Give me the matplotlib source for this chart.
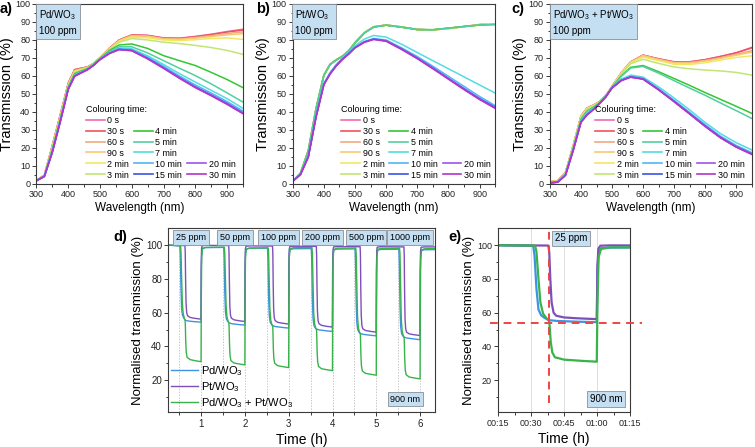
import matplotlib
matplotlib.use('Agg')
import matplotlib.pyplot as plt
from matplotlib.lines import Line2D
from matplotlib.ticker import MultipleLocator, FixedLocator, FixedFormatter

plt.rcParams['font.family'] = ['Liberation Sans', 'DejaVu Sans']
plt.rcParams['mathtext.default'] = 'regular'

# ---------------- spectra, panels a-c ----------------
wavelength = [300, 325, 350, 375, 400, 420, 440, 460, 480, 500, 530, 560,
              600, 650, 700, 750, 800, 850, 900, 950]

colouring_times = ['0 s', '30 s', '60 s', '90 s', '2 min', '3 min', '4 min',
                   '5 min', '7 min', '10 min', '15 min', '20 min', '30 min']
time_colors = ['#f06ab4', '#f2505c', '#f0aa80', '#f6c870', '#f2e860', '#c2e674',
               '#34c634', '#52cfa0', '#52dce2', '#52b6f6', '#3a54e6', '#a052f0', '#b434c8']

pd_spectra = [
    [2.0, 5.0, 21.5, 38.5, 56.0, 63.5, 64.3, 65.0, 67.0, 70.2, 75.5, 80.0, 82.8, 82.6, 81.2, 81.0, 82.0, 83.2, 84.7, 86.0],
    [2.0, 5.0, 21.5, 38.5, 56.0, 63.5, 64.3, 65.0, 67.0, 70.2, 75.5, 80.0, 82.8, 82.5, 81.0, 80.9, 81.8, 83.0, 84.4, 85.5],
    [2.0, 5.0, 21.0, 38.0, 55.5, 63.0, 64.0, 64.8, 67.0, 70.1, 75.3, 79.8, 82.5, 82.2, 80.8, 80.6, 81.4, 82.4, 83.6, 84.5],
    [2.0, 5.0, 20.8, 37.8, 55.3, 62.8, 63.8, 64.7, 66.9, 70.0, 75.2, 79.6, 82.3, 82.0, 80.5, 80.3, 81.0, 81.9, 82.8, 83.5],
    [2.0, 4.9, 20.5, 37.3, 55.0, 62.5, 63.5, 64.6, 66.9, 70.0, 75.0, 79.2, 81.6, 81.2, 80.0, 79.7, 80.2, 80.8, 81.2, 80.3],
    [2.0, 4.8, 20.0, 36.8, 54.6, 62.0, 63.2, 64.4, 66.8, 70.0, 74.7, 78.7, 80.8, 80.0, 78.8, 78.0, 77.0, 75.8, 74.2, 72.0],
    [1.9, 4.6, 19.3, 36.2, 54.0, 61.3, 62.7, 64.1, 66.6, 69.8, 74.2, 77.2, 77.8, 75.3, 71.3, 68.5, 65.8, 62.0, 58.0, 53.5],
    [1.9, 4.5, 18.8, 35.6, 53.5, 60.8, 62.4, 63.9, 66.4, 69.6, 73.6, 76.2, 76.2, 72.8, 68.5, 64.3, 60.2, 55.6, 50.6, 45.5],
    [1.8, 4.4, 18.3, 35.2, 53.1, 60.4, 62.1, 63.7, 66.2, 69.4, 73.1, 75.4, 75.1, 71.2, 66.4, 61.3, 56.6, 52.0, 47.4, 42.0],
    [1.8, 4.3, 18.0, 35.0, 52.9, 60.2, 61.9, 63.6, 66.1, 69.3, 72.9, 75.1, 74.6, 70.4, 65.4, 60.0, 55.0, 50.5, 45.8, 40.5],
    [1.8, 4.2, 17.8, 34.8, 52.7, 60.0, 61.8, 63.5, 66.0, 69.2, 72.7, 74.8, 74.2, 69.8, 64.6, 59.1, 54.0, 49.5, 44.8, 39.5],
    [1.8, 4.2, 17.7, 34.7, 52.6, 59.9, 61.7, 63.4, 66.0, 69.1, 72.6, 74.7, 74.1, 69.6, 64.4, 58.9, 53.7, 49.2, 44.5, 39.2],
    [1.8, 4.2, 17.6, 34.6, 52.5, 59.8, 61.6, 63.4, 65.9, 69.1, 72.5, 74.6, 74.0, 69.5, 64.2, 58.7, 53.5, 49.0, 44.2, 39.0],
]

pt_spectra = [
    [1.5, 6.0, 18.5, 42.0, 60.5, 66.5, 69.0, 71.0, 74.0, 78.5, 84.0, 87.3, 88.3, 87.2, 85.8, 85.6, 86.5, 87.5, 88.6, 89.0],
    [1.5, 6.0, 18.5, 42.0, 60.5, 66.5, 69.0, 71.0, 74.0, 78.5, 84.0, 87.3, 88.3, 87.2, 85.8, 85.6, 86.4, 87.4, 88.5, 89.0],
    [1.5, 6.0, 18.5, 42.0, 60.5, 66.5, 69.0, 71.0, 74.0, 78.5, 84.0, 87.3, 88.3, 87.2, 85.8, 85.6, 86.4, 87.4, 88.5, 89.0],
    [1.5, 6.0, 18.5, 42.0, 60.5, 66.5, 69.0, 71.0, 74.0, 78.5, 84.0, 87.3, 88.3, 87.2, 85.8, 85.6, 86.4, 87.4, 88.5, 89.0],
    [1.5, 6.0, 18.5, 42.0, 60.5, 66.5, 69.0, 71.0, 74.0, 78.5, 84.0, 87.3, 88.3, 87.2, 85.8, 85.6, 86.4, 87.4, 88.5, 89.0],
    [1.5, 6.0, 18.5, 42.0, 60.5, 66.5, 69.0, 71.0, 74.0, 78.5, 84.0, 87.3, 88.3, 87.2, 85.8, 85.6, 86.4, 87.4, 88.5, 89.0],
    [1.5, 6.0, 18.3, 41.8, 60.3, 66.4, 68.9, 71.0, 74.0, 78.4, 83.9, 87.2, 88.2, 87.1, 85.8, 85.7, 86.6, 87.5, 88.3, 88.6],
    [1.5, 6.0, 18.3, 41.8, 60.3, 66.4, 68.9, 71.0, 74.0, 78.4, 83.9, 87.2, 88.2, 87.1, 85.8, 85.7, 86.6, 87.5, 88.3, 88.6],
    [1.5, 5.5, 15.5, 38.0, 56.0, 62.0, 66.5, 70.0, 73.0, 76.8, 80.5, 82.5, 81.6, 77.6, 73.0, 68.5, 64.0, 59.5, 55.0, 50.5],
    [1.5, 5.4, 15.2, 37.6, 55.5, 61.5, 66.0, 69.6, 72.6, 76.0, 79.2, 80.8, 80.0, 75.6, 70.8, 65.4, 59.8, 54.2, 48.6, 43.5],
    [1.5, 5.3, 15.0, 37.4, 55.3, 61.3, 65.8, 69.4, 72.4, 75.8, 78.9, 80.5, 79.5, 75.0, 70.0, 64.5, 58.7, 53.0, 47.5, 42.6],
    [1.5, 5.3, 15.0, 37.3, 55.2, 61.2, 65.7, 69.3, 72.3, 75.7, 78.8, 80.4, 79.4, 74.8, 69.8, 64.2, 58.4, 52.6, 47.1, 42.2],
    [1.5, 5.3, 14.9, 37.2, 55.1, 61.1, 65.6, 69.2, 72.2, 75.6, 78.7, 80.3, 79.3, 74.7, 69.6, 64.0, 58.2, 52.4, 46.9, 42.0],
]

pdpt_spectra = [
    [1.2, 1.8, 6.5, 21.5, 37.8, 42.3, 43.8, 45.8, 49.2, 54.2, 61.8, 67.8, 71.6, 69.6, 67.9, 67.9, 69.1, 70.9, 72.9, 75.5],
    [1.2, 1.8, 6.5, 21.5, 37.8, 42.3, 43.8, 45.8, 49.2, 54.2, 61.8, 67.8, 71.6, 69.5, 67.8, 67.8, 69.0, 70.8, 72.8, 75.8],
    [1.2, 1.8, 6.4, 21.4, 37.7, 42.2, 43.7, 45.7, 49.1, 54.1, 61.7, 67.7, 71.5, 69.3, 67.5, 67.5, 68.6, 70.2, 72.0, 74.0],
    [1.2, 1.8, 6.3, 21.3, 37.6, 42.1, 43.6, 45.6, 49.0, 54.0, 61.6, 67.6, 71.3, 69.0, 67.3, 67.2, 68.3, 69.8, 71.5, 73.2],
    [1.1, 1.7, 6.2, 21.0, 37.3, 41.9, 43.5, 45.5, 49.0, 54.0, 61.4, 67.3, 70.5, 68.5, 66.5, 66.4, 67.4, 68.8, 70.3, 71.2],
    [1.0, 1.6, 6.0, 20.6, 36.8, 41.5, 43.2, 45.3, 48.9, 53.9, 61.0, 66.8, 69.3, 67.0, 65.0, 64.0, 63.3, 62.8, 62.0, 60.5],
    [0.9, 1.4, 5.6, 20.0, 36.0, 40.6, 42.6, 45.1, 48.8, 53.8, 60.0, 64.8, 65.8, 62.4, 58.6, 54.8, 50.8, 47.0, 43.2, 39.3],
    [0.9, 1.4, 5.5, 19.8, 35.8, 40.4, 42.5, 45.0, 48.7, 53.7, 59.8, 64.4, 65.3, 61.6, 57.4, 53.3, 49.3, 45.0, 40.8, 36.5],
    [0.7, 1.2, 5.2, 19.3, 35.0, 39.3, 41.8, 44.9, 48.6, 53.6, 58.3, 60.5, 59.4, 54.0, 47.8, 41.2, 34.2, 28.0, 23.0, 19.0],
    [0.6, 1.1, 5.0, 19.0, 34.7, 38.9, 41.6, 44.8, 48.5, 53.5, 57.8, 59.8, 58.8, 53.0, 46.5, 39.8, 33.0, 26.6, 21.5, 17.5],
    [0.6, 1.0, 4.9, 18.9, 34.5, 38.6, 41.5, 44.8, 48.4, 53.4, 57.6, 59.5, 58.4, 52.5, 46.0, 39.2, 32.3, 25.9, 20.8, 16.8],
    [0.6, 1.0, 4.9, 18.8, 34.4, 38.5, 41.4, 44.7, 48.4, 53.4, 57.5, 59.4, 58.3, 52.4, 45.8, 39.0, 32.1, 25.7, 20.6, 16.6],
    [0.6, 1.0, 4.8, 18.7, 34.3, 38.4, 41.3, 44.7, 48.3, 53.3, 57.4, 59.3, 58.2, 52.3, 45.7, 38.9, 32.0, 25.6, 20.5, 16.5],
]

# ---------------- cycling at 900 nm, panels d-e ----------------
pd_time = [0.25, 0.515, 0.525, 0.54, 0.555, 0.575, 0.6, 0.635, 0.7, 0.85, 0.998, 1.003, 1.012, 1.03, 1.1,
           1.515, 1.525, 1.54, 1.555, 1.575, 1.6, 1.635, 1.7, 1.85, 1.998, 2.003, 2.012, 2.03, 2.1,
           2.515, 2.525, 2.54, 2.555, 2.575, 2.6, 2.635, 2.7, 2.85, 2.998, 3.003, 3.012, 3.03, 3.1,
           3.515, 3.525, 3.54, 3.555, 3.575, 3.6, 3.635, 3.7, 3.85, 3.998, 4.003, 4.012, 4.03, 4.1,
           4.515, 4.525, 4.54, 4.555, 4.575, 4.6, 4.635, 4.7, 4.85, 4.998, 5.003, 5.012, 5.03, 5.1,
           5.515, 5.525, 5.54, 5.555, 5.575, 5.6, 5.635, 5.7, 5.85, 5.998, 6.003, 6.012, 6.03, 6.1, 6.34]
pd_norm = [100, 99.6, 94, 74, 62, 58.5, 57, 55.6, 55.1, 54.7, 54.4, 85, 96, 98.2, 98.6,
           98.7, 93, 72, 60.5, 56.5, 55.2, 54, 53.5, 53, 52.7, 84, 95.5, 97.7, 98.2,
           98.3, 92, 70, 58.5, 54.5, 53.3, 52.3, 51.8, 51.3, 50.9, 84, 95, 97.4, 97.9,
           98.0, 91, 68, 56.5, 52.5, 51.2, 50.3, 49.8, 49.3, 48.9, 83, 95, 97.2, 97.7,
           97.8, 90, 66, 54, 50, 48.6, 47.7, 47.2, 46.7, 46.3, 83, 94.5, 97, 97.5,
           97.6, 89, 64, 52, 47.8, 46.4, 45.5, 45, 44.5, 44.0, 82, 94, 96.8, 97.3, 97.4]

pt_time = [0.25, 0.63, 0.637, 0.645, 0.655, 0.67, 0.69, 0.75, 0.85, 0.998, 1.003, 1.01, 1.025, 1.1,
           1.63, 1.637, 1.645, 1.655, 1.67, 1.69, 1.75, 1.85, 1.998, 2.003, 2.01, 2.025, 2.1,
           2.63, 2.637, 2.645, 2.655, 2.67, 2.69, 2.75, 2.85, 2.998, 3.003, 3.01, 3.025, 3.1,
           3.63, 3.637, 3.645, 3.655, 3.67, 3.69, 3.75, 3.85, 3.998, 4.003, 4.01, 4.025, 4.1,
           4.63, 4.637, 4.645, 4.655, 4.67, 4.69, 4.75, 4.85, 4.998, 5.003, 5.01, 5.025, 5.1,
           5.63, 5.637, 5.645, 5.655, 5.67, 5.69, 5.75, 5.85, 5.998, 6.003, 6.01, 6.025, 6.1, 6.34]
pt_norm = [100, 99.8, 96, 80, 66, 60, 58.2, 57.2, 56.7, 56.2, 88, 98, 99.7, 99.9,
           99.8, 95, 78, 64, 58.5, 56.8, 55.8, 55.3, 54.8, 87, 97.8, 99.4, 99.6,
           99.5, 95, 77, 62.5, 57, 55.3, 54.3, 53.8, 53.3, 87, 97.5, 99.2, 99.4,
           99.3, 94, 76, 61, 55.3, 53.5, 52.5, 52, 51.5, 86, 97.2, 99, 99.2,
           99.1, 94, 74, 58.5, 52.5, 50.5, 49.5, 49, 48.5, 86, 97, 98.9, 99.1,
           99.0, 94, 73, 56.5, 50.5, 48.5, 47.5, 47, 46.5, 85, 96.8, 98.8, 99, 99]

pdpt_time = [0.25, 0.53, 0.54, 0.555, 0.57, 0.59, 0.615, 0.635, 0.64, 0.648, 0.66, 0.68, 0.75, 0.9, 0.998,
             1.003, 1.012, 1.03, 1.1,
             1.53, 1.54, 1.555, 1.57, 1.59, 1.615, 1.635, 1.64, 1.648, 1.66, 1.68, 1.75, 1.9, 1.998,
             2.003, 2.012, 2.03, 2.1,
             2.53, 2.54, 2.555, 2.57, 2.59, 2.615, 2.635, 2.64, 2.648, 2.66, 2.68, 2.75, 2.9, 2.998,
             3.003, 3.012, 3.03, 3.1,
             3.53, 3.54, 3.555, 3.57, 3.59, 3.615, 3.635, 3.64, 3.648, 3.66, 3.68, 3.75, 3.9, 3.998,
             4.003, 4.012, 4.03, 4.1,
             4.53, 4.54, 4.555, 4.57, 4.59, 4.615, 4.635, 4.64, 4.648, 4.66, 4.68, 4.75, 4.9, 4.998,
             5.003, 5.012, 5.03, 5.1,
             5.53, 5.54, 5.555, 5.57, 5.59, 5.615, 5.635, 5.64, 5.648, 5.66, 5.68, 5.75, 5.9, 5.998,
             6.003, 6.012, 6.03, 6.1, 6.34]
pdpt_norm = [100, 99.7, 96, 80, 66, 59.5, 56.8, 55.3, 52, 43, 36.5, 33.6, 32.2, 31.4, 31.0,
             65, 93, 97.8, 98.7,
             98.8, 95, 79, 64, 57.5, 55, 53.6, 50, 41, 34.5, 31.6, 30.2, 29.5, 29.1,
             64, 92.5, 97.5, 98.3,
             98.4, 95, 78, 62, 55.5, 53, 51.8, 48, 39, 32.8, 30, 28.6, 27.9, 27.5,
             63, 92.5, 97.8, 98.5,
             98.6, 95, 77, 60, 53.5, 51, 49.8, 46, 37, 31, 28.2, 26.8, 26.1, 25.7,
             62, 92, 97.5, 98.2,
             98.3, 95, 76, 58, 51, 48.5, 47.3, 43.5, 34.5, 28.5, 25.5, 24.1, 23.4, 23.0,
             61, 92, 97.5, 98.1,
             98.2, 95, 75, 56, 49, 46.5, 45.2, 41.5, 32.5, 26.3, 23.3, 21.9, 21.2, 20.8,
             60, 91.5, 97.2, 97.9, 98]

concentrations = ['25 ppm', '50 ppm', '100 ppm', '200 ppm', '500 ppm', '1000 ppm']
e_ticks = [0.25, 0.5, 0.75, 1.0, 1.25]
e_tick_labels = ['00:15', '00:30', '00:45', '01:00', '01:15']
pt_onset = 0.637     # dashed vertical marker, h
pd_level = 54.1      # dashed horizontal marker, %

C_PD = '#3f93e3'
C_PT = '#7e4fb8'
C_PDPT = '#37b34a'
BOX = dict(boxstyle='square,pad=0.3', fc='#c4def2', ec='#8a8f96', lw=0.6)
AX_COLOR = '#3a3a3a'


def style_axes(ax, labelsize=6.5):
    for s in ax.spines.values():
        s.set_color(AX_COLOR)
        s.set_linewidth(0.8)
    ax.tick_params(which='both', direction='out', color=AX_COLOR, labelcolor='#222222',
                   labelsize=labelsize, width=0.7, pad=1.5)
    ax.tick_params(which='major', length=3)
    ax.tick_params(which='minor', length=1.8)


def spectra_panel(ax, spectra, sample, letter, letter_x, leg_x):
    lines = []
    for vals, lab, col in zip(spectra, colouring_times, time_colors):
        ln, = ax.plot(wavelength, vals, color=col, lw=1.1, label=lab)
        lines.append(ln)
    ax.set_xlim(300, 950)
    ax.set_ylim(0, 100)
    ax.xaxis.set_major_locator(MultipleLocator(100))
    ax.xaxis.set_minor_locator(MultipleLocator(50))
    ax.yaxis.set_major_locator(MultipleLocator(10))
    ax.yaxis.set_minor_locator(MultipleLocator(5))
    style_axes(ax)
    ax.set_xlabel('Wavelength (nm)', fontsize=8.5, labelpad=2)
    ax.set_ylabel('Transmission (%)', fontsize=10.5, labelpad=1)
    ax.text(0.013, 0.975, sample + '\n100 ppm', transform=ax.transAxes, fontsize=7,
            va='top', ha='left', linespacing=1.5, bbox=BOX)

    blank = Line2D([], [], color='none')
    handles = lines[:6] + [blank] + lines[6:11] + [blank] * 4 + lines[11:]
    labels = colouring_times[:6] + [''] + colouring_times[6:11] + [''] * 4 + colouring_times[11:]
    leg = ax.legend(handles, labels, ncol=3, title='Colouring time:', loc='upper left',
                    bbox_to_anchor=(leg_x, 0.44), frameon=False, fontsize=6.4, title_fontsize=6.5,
                    handlelength=2.1, handletextpad=0.3, columnspacing=0.55, labelspacing=0.22,
                    borderpad=0, borderaxespad=0, alignment='left')
    for ln in leg.get_lines():
        ln.set_linewidth(1.2)
    ax.text(letter_x, 0.97, letter, transform=ax.transAxes, fontsize=10.5, fontweight='bold',
            ha='left', va='center')


fig = plt.figure(figsize=(7.55, 4.47), dpi=100)

ax_a = fig.add_axes([0.0483, 0.5884, 0.2736, 0.4027])
ax_b = fig.add_axes([0.3877, 0.5884, 0.2682, 0.4027])
ax_c = fig.add_axes([0.7285, 0.5884, 0.2669, 0.4027])
spectra_panel(ax_a, pd_spectra, 'Pd/WO$_3$', 'a)', -0.18, 0.24)
spectra_panel(ax_b, pt_spectra, 'Pt/WO$_3$', 'b)', -0.18, 0.24)
spectra_panel(ax_c, pdpt_spectra, 'Pd/WO$_3$ + Pt/WO$_3$', 'c)', -0.19, 0.225)

# ---- d) ----
ax_d = fig.add_axes([0.2229, 0.0776, 0.3533, 0.4116])
ax_d.plot(pd_time, pd_norm, color=C_PD, lw=1.0, label='Pd/WO$_3$')
ax_d.plot(pt_time, pt_norm, color=C_PT, lw=1.0, label='Pt/WO$_3$')
ax_d.plot(pdpt_time, pdpt_norm, color=C_PDPT, lw=1.0, label='Pd/WO$_3$ + Pt/WO$_3$')
ax_d.set_xlim(0.25, 6.34)
ax_d.set_ylim(1, 110)
ax_d.xaxis.set_major_locator(MultipleLocator(1))
ax_d.xaxis.set_minor_locator(MultipleLocator(0.5))
ax_d.yaxis.set_major_locator(FixedLocator([20, 40, 60, 80, 100]))
ax_d.yaxis.set_minor_locator(FixedLocator([10, 30, 50, 70, 90]))
ax_d.grid(which='both', axis='x', color='#b0b0b0', ls=(0, (2, 2)), lw=0.5)
style_axes(ax_d, 7)
ax_d.set_xlabel('Time (h)', fontsize=10, labelpad=3)
ax_d.set_ylabel('Normalised transmission (%)', fontsize=9.5, labelpad=1.5)
for i, conc in enumerate(concentrations):
    ax_d.text(i + 0.77, 104.6, conc, fontsize=6.5, ha='center', va='center', bbox=BOX)
ax_d.text(0.889, 0.072, '900 nm', transform=ax_d.transAxes, fontsize=6.5,
          ha='center', va='center', bbox=BOX)
ax_d.legend(loc='upper left', bbox_to_anchor=(0.012, 0.262), frameon=False, fontsize=8,
            handlelength=2.4, handletextpad=0.3, labelspacing=0.2, borderpad=0, borderaxespad=0)
ax_d.text(-0.205, 0.955, 'd)', transform=ax_d.transAxes, fontsize=10.5, fontweight='bold',
          ha='left', va='center')

# ---- e) ----
ax_e = fig.add_axes([0.6600, 0.0776, 0.1744, 0.4116])
ax_e.plot(pd_time, pd_norm, color=C_PD, lw=1.6)
ax_e.plot(pt_time, pt_norm, color=C_PT, lw=1.6)
ax_e.plot(pdpt_time, pdpt_norm, color=C_PDPT, lw=1.6)
ax_e.set_xlim(0.25, 1.25)
ax_e.set_ylim(1, 110)
ax_e.xaxis.set_major_locator(FixedLocator(e_ticks))
ax_e.xaxis.set_major_formatter(FixedFormatter(e_tick_labels))
ax_e.xaxis.set_minor_locator(MultipleLocator(0.125))
ax_e.yaxis.set_major_locator(FixedLocator([20, 40, 60, 80, 100]))
ax_e.yaxis.set_minor_locator(FixedLocator([10, 30, 50, 70, 90]))
ax_e.grid(which='major', axis='x', color='#d8d8d8', lw=0.6)
style_axes(ax_e, 6.5)
ax_e.axvline(pt_onset, ymin=0.05, ymax=1, color='#ee4444', ls=(0, (4, 3)), lw=1.4, zorder=5)
ax_e.plot([0.187, 1.339], [pd_level, pd_level], color='#ee4444', ls=(0, (4, 3)), lw=1.4,
          zorder=5, clip_on=False)
ax_e.set_xlabel('Time (h)', fontsize=10, labelpad=3)
ax_e.set_ylabel('Normalised transmission (%)', fontsize=9.5, labelpad=1.5)
ax_e.text(0.552, 0.945, '25 ppm', transform=ax_e.transAxes, fontsize=7,
          ha='center', va='center', bbox=BOX)
ax_e.text(0.82, 0.072, '900 nm', transform=ax_e.transAxes, fontsize=7,
          ha='center', va='center', bbox=BOX)
ax_e.text(-0.38, 0.955, 'e)', transform=ax_e.transAxes, fontsize=10.5, fontweight='bold',
          ha='left', va='center')

fig.savefig('out.png', dpi=100)
